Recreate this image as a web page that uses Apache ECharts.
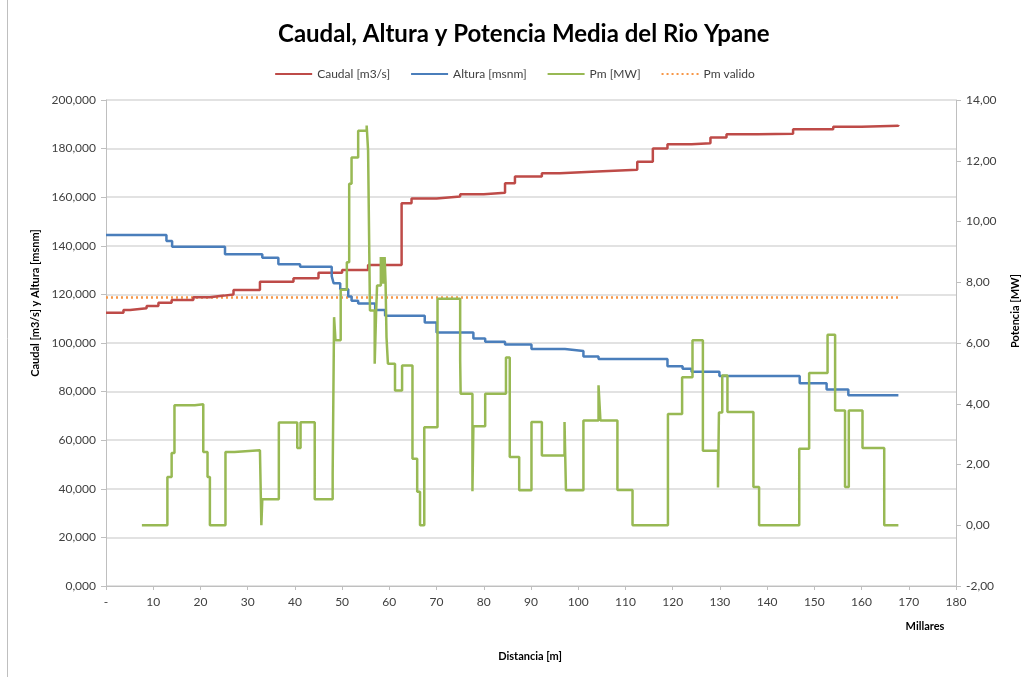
<!DOCTYPE html>
<html>
<head>
<meta charset="utf-8">
<script src="https://cdn.jsdelivr.net/npm/echarts@6/dist/echarts.min.js"></script>
<style>html,body{margin:0;padding:0;background:#fff}#c{width:1029px;height:677px}</style>
</head>
<body>
<div id="c"></div>
<script>
// Distance in thousands of metres (Millares)
const caudalX = [0, 3.7, 5.1, 8.6, 11.1, 13.9, 18.5, 22, 25, 27.0, 32.6, 39.7, 45.0, 50, 55.5, 62.6, 64.7, 70, 75, 80, 84.5, 86.6, 92.3, 96.1, 104, 112.5, 115.8, 118.9, 124, 128.0, 131.4, 138, 145.5, 154.0, 160, 167.8];
const caudalY = [112.5, 113.6, 114.3, 115.2, 116.6, 117.7, 118.8, 119.5, 120.0, 121.8, 125.2, 126.6, 128.9, 130.0, 132.1, 157.5, 159.5, 160.3, 161.2, 161.8, 165.7, 168.5, 169.9, 170.6, 171.3, 174.6, 180.0, 181.8, 182.2, 184.6, 185.9, 186.1, 188.0, 189.0, 189.4, 189.7];

const alturaX = [0, 12.8, 14.0, 25.2, 33.1, 36.5, 41.1, 47.8, 48.2, 49.6, 51.3, 52.0, 53.4, 57.0, 59.1, 67.5, 70.0, 77.8, 80.3, 84.5, 90.1, 97.2, 101.1, 104.3, 118.9, 122.1, 124.0, 129.9, 146.9, 152.6, 157.2, 167.8];
const alturaY = [144.4, 142.0, 139.6, 136.5, 135.1, 132.4, 131.4, 127.5, 124.6, 122.1, 119.1, 117.4, 116.3, 113.6, 111.2, 108.4, 104.3, 101.9, 100.5, 99.4, 97.5, 96.7, 94.4, 93.4, 90.4, 89.4, 88.2, 86.4, 83.4, 80.9, 78.5, 78.5];

const pmX = [7.6, 13.0, 13.9, 14.5, 18.8, 20.6, 21.5, 22.0, 25.3, 27.2, 32.6, 32.9, 33.1, 36.6, 40.5, 41.2, 44.2, 48.0, 48.3, 48.6, 49.7, 51.0, 51.5, 52.0, 53.4, 55.2, 55.5, 55.9, 56.9, 57.2, 57.4, 58.2, 58.4, 58.6, 58.8, 59.0, 59.2, 59.4, 59.7, 61.2, 62.7, 64.9, 65.9, 66.5, 67.4, 70.2, 75.0, 75.1, 77.6, 77.8, 80.3, 84.7, 85.5, 87.5, 90.1, 92.3, 97.1, 97.4, 101.1, 104.3, 104.7, 108.3, 111.5, 119.0, 122.0, 124.2, 126.4, 129.6, 129.8, 130.5, 131.6, 137.1, 138.3, 146.8, 148.9, 152.8, 154.4, 156.5, 157.3, 160.2, 164.8, 167.8];
const pmY = [0, 1.59, 2.38, 3.95, 3.98, 2.41, 1.59, 0, 2.41, 2.47, 2.52, 0, 0.86, 3.38, 2.54, 3.39, 0.86, 1.70, 6.85, 6.09, 7.75, 8.66, 11.24, 12.11, 12.99, 13.16, 12.34, 7.07, 5.32, 7.0, 7.89, 8.83, 7.95, 8.83, 7.95, 8.83, 8.0, 6.19, 5.32, 4.44, 5.26, 2.19, 1.1, 0, 3.23, 7.46, 5.43, 4.33, 1.12, 3.26, 4.33, 5.52, 2.25, 1.15, 3.40, 2.30, 3.40, 1.15, 3.45, 4.61, 3.45, 1.16, 0, 3.66, 4.87, 6.09, 2.45, 1.24, 3.71, 4.93, 3.73, 1.26, 0, 2.52, 5.01, 6.27, 3.78, 1.26, 3.78, 2.54, 0, 0];

const pmValidoX = [0, 167.8];
const pmValidoY = [7.5, 7.5];

const xTicks = {min: 0, max: 180, step: 10};
const leftTicks = {min: 0, max: 200, step: 20};
const rightTicks = {min: -2, max: 14, step: 2};

const seriesNames = ['Caudal [m3/s]', 'Altura [msnm]', 'Pm [MW]', 'Pm valido'];

function zip(xs, ys) { return xs.map((x, i) => [x, ys[i]]); }

const FONT = 'Lato, "Open Sans", sans-serif';
const chart = echarts.init(document.getElementById('c'), null, {renderer: 'canvas'});
chart.setOption({
  backgroundColor: '#ffffff',
  animation: false,
  textStyle: {fontFamily: FONT},
  title: {
    text: 'Caudal, Altura y Potencia Media del Rio Ypane',
    left: 273, top: 17,
    textStyle: {fontFamily: FONT, fontSize: 24, fontWeight: 'bold', color: '#000'}
  },
  legend: {
    top: 63, left: 'center',
    itemWidth: 37, itemHeight: 10, itemGap: 20,
    itemStyle: {opacity: 0},
    textStyle: {fontFamily: FONT, fontSize: 12, color: '#404040'},
    data: seriesNames
  },
  grid: {left: 106, right: 73, top: 100, bottom: 91, containLabel: false},
  xAxis: {
    type: 'value', min: xTicks.min, max: xTicks.max, interval: xTicks.step,
    axisLine: {show: true, onZero: false, lineStyle: {color: '#bfbfbf'}},
    axisTick: {show: true, length: 4, lineStyle: {color: '#bfbfbf'}},
    axisLabel: {fontFamily: FONT, fontSize: 12, color: '#404040', margin: 10,
      formatter: v => v === 0 ? '-' : String(v)},
    splitLine: {show: false}
  },
  yAxis: [{
    type: 'value', min: leftTicks.min, max: leftTicks.max, interval: leftTicks.step,
    position: 'left',
    axisLine: {show: true, lineStyle: {color: '#bfbfbf'}},
    axisTick: {show: true, length: 5, lineStyle: {color: '#bfbfbf'}},
    axisLabel: {fontFamily: FONT, fontSize: 12, color: '#404040', margin: 10,
      formatter: v => v.toFixed(3).replace('.', ',')},
    splitLine: {show: true, lineStyle: {color: '#d9d9d9', width: 1.5}}
  }, {
    type: 'value', min: rightTicks.min, max: rightTicks.max, interval: rightTicks.step,
    position: 'right',
    axisLine: {show: true, lineStyle: {color: '#bfbfbf'}},
    axisTick: {show: true, length: 5, lineStyle: {color: '#bfbfbf'}},
    axisLabel: {fontFamily: FONT, fontSize: 12, color: '#404040', margin: 10,
      formatter: v => v.toFixed(2).replace('.', ',')},
    splitLine: {show: false}
  }],
  series: [{
    name: seriesNames[0], type: 'line', step: 'end', yAxisIndex: 0, symbol: 'none',
    data: zip(caudalX, caudalY), color: '#be4b48', lineStyle: {width: 2.5, color: '#be4b48'}, z: 3
  }, {
    name: seriesNames[1], type: 'line', step: 'end', yAxisIndex: 0, symbol: 'none',
    data: zip(alturaX, alturaY), color: '#4a7ebb', lineStyle: {width: 2.5, color: '#4a7ebb'}, z: 3
  }, {
    name: seriesNames[2], type: 'line', step: 'end', yAxisIndex: 1, symbol: 'none',
    data: zip(pmX, pmY), color: '#98b954', lineStyle: {width: 2.5, color: '#98b954'}, z: 4
  }, {
    name: seriesNames[3], type: 'line', yAxisIndex: 1, symbol: 'none',
    data: zip(pmValidoX, pmValidoY), color: '#f79646',
    lineStyle: {width: 2.5, color: '#f79646', type: [2, 3]}, z: 2
  }],
  graphic: [
    {type: 'line', shape: {x1: 7.5, y1: 0, x2: 7.5, y2: 677}, style: {stroke: '#bfbfbf', lineWidth: 1}},
    {type: 'text', x: 35, y: 303, rotation: Math.PI / 2,
      style: {text: 'Caudal [m3/s] y Altura [msnm]', font: 'bold 11px ' + FONT, fill: '#000', textAlign: 'center', textVerticalAlign: 'middle'}},
    {type: 'text', x: 1015, y: 311, rotation: Math.PI / 2,
      style: {text: 'Potencia [MW]', font: 'bold 11px ' + FONT, fill: '#000', textAlign: 'center', textVerticalAlign: 'middle'}},
    {type: 'text', x: 925, y: 626,
      style: {text: 'Millares', font: 'bold 11px ' + FONT, fill: '#000', textAlign: 'center', textVerticalAlign: 'middle'}},
    {type: 'text', x: 530, y: 656,
      style: {text: 'Distancia [m]', font: 'bold 11px ' + FONT, fill: '#000', textAlign: 'center', textVerticalAlign: 'middle'}}
  ]
});
</script>
</body>
</html>
